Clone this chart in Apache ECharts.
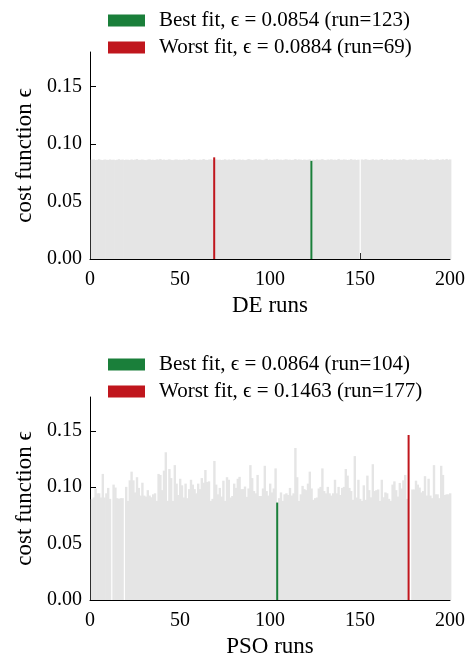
<!DOCTYPE html>
<html>
<head>
<meta charset="utf-8">
<script src="https://cdn.jsdelivr.net/npm/echarts@6/dist/echarts.min.js"></script>
<style>
  html, body { margin: 0; padding: 0; background: #fff; }
  #main { width: 469px; height: 659px; }
</style>
</head>
<body>
<div id="main"></div>
<script>
// cost function per run (runs 1..200), 0 = failed / missing run
var deValues = [
  0.0864,0.0866,0.0861,0.0863,0.0867,0.0862,0.0860,0.0865,0.0863,0.0861,
  0.0866,0.0862,0.0864,0.0860,0.0863,0.0868,0.0862,0.0865,0.0861,0.0864,
  0.0863,0.0860,0.0866,0.0862,0.0864,0.0869,0.0861,0.0863,0.0865,0.0862,
  0.0860,0.0864,0.0867,0.0862,0.0863,0.0861,0.0866,0.0864,0.0870,0.0862,
  0.0865,0.0861,0.0863,0.0867,0.0862,0.0860,0.0864,0.0866,0.0862,0.0863,
  0.0861,0.0865,0.0862,0.0864,0.0868,0.0861,0.0863,0.0866,0.0862,0.0860,
  0.0864,0.0862,0.0869,0.0863,0.0861,0.0865,0.0867,0.0862,0.0884,0.0866,
  0.0862,0.0864,0.0861,0.0863,0.0867,0.0860,0.0865,0.0862,0.0864,0.0868,
  0.0861,0.0863,0.0866,0.0862,0.0864,0.0860,0.0863,0.0869,0.0865,0.0861,
  0.0864,0.0867,0.0862,0.0866,0.0863,0.0860,0.0865,0.0871,0.0862,0.0864,
  0.0861,0.0866,0.0863,0.0868,0.0862,0.0864,0.0860,0.0865,0.0867,0.0862,
  0.0864,0.0861,0.0863,0.0869,0.0862,0.0866,0.0864,0.0861,0.0865,0.0862,
  0.0863,0.0867,0.0854,0.0864,0.0861,0.0866,0.0862,0.0864,0.0868,0.0862,
  0.0860,0.0865,0.0863,0.0867,0.0862,0.0864,0.0861,0.0870,0.0863,0.0862,
  0.0866,0.0864,0.0861,0.0863,0.0868,0.0862,0.0865,0.0861,0.0864,0,
  0.0866,0.0862,0.0868,0.0864,0.0861,0.0863,0.0867,0.0862,0.0865,0.0860,
  0.0864,0.0869,0.0862,0.0863,0.0866,0.0861,0.0864,0.0862,0.0867,0.0863,
  0.0861,0.0865,0.0862,0.0868,0.0864,0.0860,0.0863,0.0866,0.0862,0.0864,
  0.0867,0.0861,0.0863,0.0865,0.0862,0.0869,0.0864,0.0861,0.0866,0.0863,
  0.0862,0.0865,0.0868,0.0861,0.0864,0.0867,0.0862,0.0870,0.0863,0.0866
];
var psoValues = [
  0.0894,0.0909,0.0989,0.0946,0.0946,0.0909,0.1118,0.0909,0.0946,0.0994,
  0.0897,0,0.1023,0.0997,0.0903,0.0897,0.0903,0.0903,0,0.1003,
  0.0879,0.1061,0.1138,0.1061,0.0954,0.1089,0.0994,0.0926,0.1040,0.0926,
  0.0917,0.0974,0.0926,0.0911,0.0937,0.0946,0.0879,0.1118,0.1109,0.0974,
  0.1147,0.1310,0.0879,0.1161,0.1081,0.0879,0.1196,0.1032,0.0931,0.1075,
  0.1017,0.0909,0.1032,0.0903,0.0983,0.1066,0.1023,0.0983,0.0946,0.1032,
  0.0983,0.1081,0.1040,0.1153,0.1046,0.1052,0.0879,0.0897,0.1233,0.1023,
  0.0937,0.0994,0.0917,0.1058,0.0879,0.1089,0.1066,0.0909,0.0922,0.1032,
  0.0994,0.1075,0.1092,0.0983,0.0983,0.1006,0.0914,0.0989,0.1196,0.1081,
  0.0966,0.0946,0.1109,0.0922,0.0922,0.0989,0.1190,0.0966,0.0926,0.1032,
  0.0954,0.0989,0.1167,0.0864,0.0903,0.0954,0.0879,0.0937,0.0946,0.0931,
  0.0994,0.0926,0.0946,0.1348,0.1089,0.0879,0.0937,0.1012,0.0983,0.0974,
  0.1032,0.1138,0.0989,0.0888,0.0903,0.0909,0.0989,0.1003,0.1167,0.0966,
  0.0946,0.1003,0.0946,0.0926,0.0946,0.1066,0.0946,0.1003,0.0931,0.0994,
  0.1003,0.1161,0.1103,0.0994,0.0966,0.0888,0.1276,0.0909,0.1066,0.0897,
  0.0879,0.1017,0.0888,0.1103,0.0974,0.0911,0.1204,0.0966,0.0974,0.0980,
  0.0879,0.1066,0.0911,0.0954,0.0946,0.0897,0.0879,0.1023,0.1052,0.0974,
  0.0917,0.1038,0.0989,0.1061,0.1109,0.0897,0.1463,0,0.0980,0.0980,
  0.1058,0.1023,0.0997,0.0954,0.0966,0.1098,0.0926,0.1075,0.0926,0.0903,
  0.1196,0.0937,0.0937,0.0903,0.1190,0.1109,0.0931,0.0937,0.0937,0.0946
];
var deBestRun = 123, deWorstRun = 69;
var psoBestRun = 104, psoWorstRun = 177;
var yTicks = [0, 0.05, 0.10, 0.15];

var FONT = "'Liberation Serif', 'DejaVu Serif', serif";
var GREY = '#e5e5e5', GREEN = '#1a7f3a', RED = '#c0161d';

function fitName(kind, vals, run) {
  return kind + ' fit, \u03f5 = ' + vals[run - 1].toFixed(4) + ' (run=' + run + ')';
}

function greyData(vals, skip) {
  var out = [];
  for (var i = 0; i < vals.length; i++) {
    if (skip.indexOf(i + 1) < 0) out.push([i + 1, vals[i]]);
  }
  return out;
}

var deBestName = fitName('Best', deValues, deBestRun);
var deWorstName = fitName('Worst', deValues, deWorstRun);
var psoBestName = fitName('Best', psoValues, psoBestRun);
var psoWorstName = fitName('Worst', psoValues, psoWorstRun);

function xAx(idx, name) {
  return {
    type: 'value', gridIndex: idx, min: 0, max: 200, interval: 50,
    name: name, nameLocation: 'middle', nameGap: 35,
    nameTextStyle: { fontFamily: FONT, fontSize: 23, color: '#000' },
    axisLine: { lineStyle: { color: '#000', width: 1 } },
    axisTick: { inside: true, length: 6, lineStyle: { color: '#000' } },
    axisLabel: { fontFamily: FONT, fontSize: 20, color: '#000', margin: 11 },
    splitLine: { show: false }
  };
}
function yAx(idx) {
  return {
    type: 'value', gridIndex: idx, min: 0, max: 0.18,
    name: 'cost function \u03f5', nameLocation: 'middle', nameGap: 54,
    nameTextStyle: { fontFamily: FONT, fontSize: 23, color: '#000' },
    axisLine: { show: true, lineStyle: { color: '#000', width: 1 } },
    axisTick: { show: true, inside: true, length: 6, customValues: yTicks, lineStyle: { color: '#000' } },
    axisLabel: { fontFamily: FONT, fontSize: 20, color: '#000', margin: 8,
      customValues: yTicks, formatter: function (v) { return v.toFixed(2); } },
    splitLine: { show: false }
  };
}
function legendAt(top, names) {
  return {
    data: names, left: 108, top: top, padding: 0, orient: 'vertical', icon: 'rect',
    itemWidth: 37, itemHeight: 12, itemGap: 6, selectedMode: false,
    textStyle: { fontFamily: FONT, fontSize: 21, color: '#000', padding: [0, 0, 0, 9] }
  };
}
function bars(name, idx, data, color, w) {
  return {
    name: name, type: 'bar', xAxisIndex: idx, yAxisIndex: idx,
    data: data, barWidth: w, barGap: '-100%',
    itemStyle: { color: color }, silent: true
  };
}

var chart = echarts.init(document.getElementById('main'));
chart.setOption({
  animation: false,
  grid: [
    { left: 90, top: 52, width: 360, height: 207 },
    { left: 90, top: 397, width: 360, height: 207 }
  ],
  legend: [
    legendAt(10, [deBestName, deWorstName]),
    legendAt(354, [psoBestName, psoWorstName])
  ],
  xAxis: [xAx(0, 'DE runs'), xAx(1, 'PSO runs')],
  yAxis: [yAx(0), yAx(1)],
  series: [
    bars('de', 0, greyData(deValues, [deBestRun, deWorstRun]), GREY, 2.4),
    bars(deBestName, 0, [[deBestRun, deValues[deBestRun - 1]]], GREEN, 2),
    bars(deWorstName, 0, [[deWorstRun, deValues[deWorstRun - 1]]], RED, 2),
    bars('pso', 1, greyData(psoValues, [psoBestRun, psoWorstRun]), GREY, 2.4),
    bars(psoBestName, 1, [[psoBestRun, psoValues[psoBestRun - 1]]], GREEN, 2),
    bars(psoWorstName, 1, [[psoWorstRun, psoValues[psoWorstRun - 1]]], RED, 2)
  ]
});
</script>
</body>
</html>
